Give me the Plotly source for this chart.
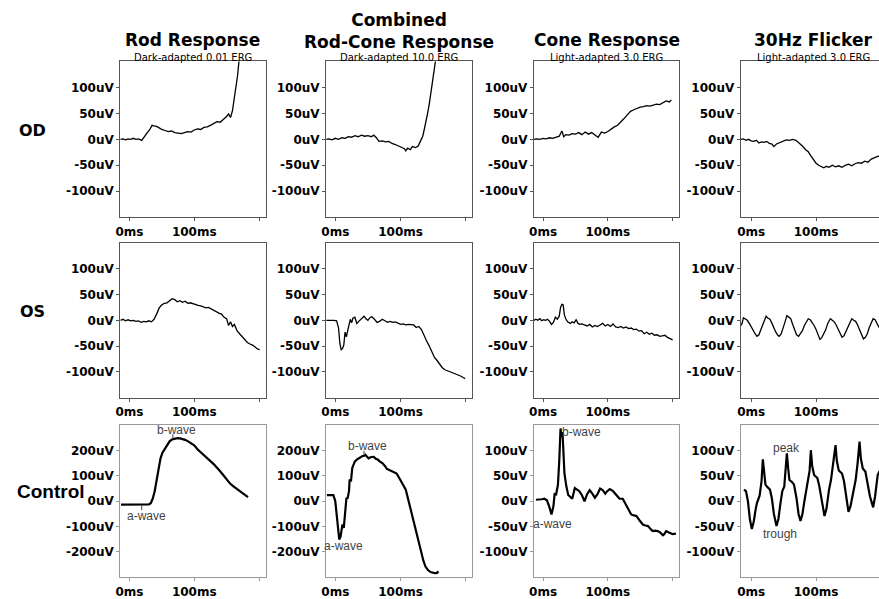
import plotly.graph_objects as go

# ---------------- data ----------------
col_titles = ["Rod Response", "Combined<br>Rod-Cone Response", "Cone Response", "30Hz Flicker"]
col_subtitles = ["Dark-adapted 0.01 ERG", "Dark-adapted 10.0 ERG", "Light-adapted 3.0 ERG", "Light-adapted 3.0 ERG"]
row_labels = ["OD", "OS", "Control"]

x_tickvals = [0, 100, 200]
x_ticktext = ["0ms", "100ms", ""]
y_tickvals_small = [-100, -50, 0, 50, 100]
y_ticktext_small = ["-100uV", "-50uV", "0uV", "50uV", "100uV"]
y_tickvals_big = [-200, -100, 0, 100, 200]
y_ticktext_big = ["-200uV", "-100uV", "0uV", "100uV", "200uV"]

# Row 1: OD
rod_od_t = [-14,-10,-6,-2,2,6,10,14,19,23,27,31,35,38,42,46,50,55,60,65,70,75,80,85,90,95,100,105,110,115,120,125,130,135,140,145,150,153,156,159,162,165,167,169,171,173]
rod_od_v = [0,1,-1,1,0,2,0,1,-2,6,12,18,27,26,25,22,19,17,15,16,13,12,11,13,15,14,18,20,19,23,24,27,30,34,33,38,44,49,42,55,78,100,124,150,180,210]

comb_od_t = [-14,-10,-5,0,5,10,15,20,25,30,35,40,45,50,55,59,63,67,72,77,82,87,92,97,102,106,108,111,115,118,123,127,131,134,136,139,141,144,146,149,151,155,158]
comb_od_v = [0,1,-1,2,0,3,2,5,4,7,5,8,6,7,5,8,3,-4,-3,-5,-4,-8,-10,-13,-15,-18,-22,-17,-20,-14,-16,-13,-2,6,17,32,47,68,85,108,124,152,190]

cone_od_t = [-14,-10,-5,0,5,10,15,20,25,29,32,35,40,45,50,55,60,65,70,75,80,85,90,95,100,105,110,115,120,125,130,135,140,145,150,155,160,165,170,175,180,185,190,195,198]
cone_od_v = [0,1,0,2,1,3,2,4,6,16,5,9,8,11,10,13,9,14,10,13,8,4,14,12,15,20,24,27,33,40,47,54,57,60,62,63,65,64,66,68,67,70,74,72,76]

flick_od_t = [-16,-12,-8,-4,0,4,8,12,16,20,24,28,32,35,39,44,49,54,59,64,69,74,79,84,88,92,96,100,104,108,112,116,120,125,130,135,140,145,150,155,160,165,170,175,180,185,190,195,200]
flick_od_v = [0,1,-2,0,-3,-4,-2,-7,-5,-6,-4,-8,-9,-14,-9,-6,-3,-1,-2,0,-2,-7,-13,-20,-24,-32,-40,-46,-50,-53,-55,-52,-54,-50,-53,-51,-54,-50,-48,-51,-47,-45,-46,-42,-44,-38,-35,-33,-32]

# Row 2: OS
rod_os_t = [-14,-10,-6,-2,2,6,10,14,18,22,26,30,34,38,42,46,50,54,58,62,66,70,74,78,82,86,90,94,98,102,106,110,114,118,122,126,130,134,138,142,146,150,153,156,159,162,166,170,174,178,182,186,190,194,198,201]
rod_os_v = [0,2,-1,1,-1,0,-2,-1,-4,-2,-3,-1,-3,2,12,24,30,33,34,38,42,40,36,38,35,37,33,34,32,31,29,28,26,24,25,22,20,17,14,12,6,3,-10,-3,-12,-8,-20,-26,-32,-36,-43,-46,-48,-52,-56,-57]

comb_os_t = [-14,-10,-6,-2,2,5,7,9,11,13,15,17,19,21,23,25,27,30,33,36,40,44,47,50,53,56,60,64,68,72,76,80,84,88,92,96,100,104,108,112,116,120,124,128,132,136,140,144,148,152,156,160,164,168,172,176,180,184,188,192,196,199]
comb_os_v = [0,0,1,0,-1,-15,-45,-57,-55,-48,-23,-32,-20,-10,2,-5,4,6,-6,-2,4,8,3,0,5,7,2,-4,-2,2,-1,-4,-2,-4,-3,-6,-8,-7,-9,-8,-8,-9,-14,-12,-18,-30,-40,-50,-60,-72,-78,-86,-92,-96,-98,-99,-101,-103,-106,-108,-111,-113]

cone_os_t = [-14,-11,-8,-5,-2,1,4,7,10,13,16,19,22,25,27,29,31,33,35,38,42,45,48,51,54,57,60,64,68,72,76,80,84,88,92,96,100,104,108,112,116,120,124,128,132,136,140,144,148,152,156,160,164,168,172,176,180,184,188,192,196,200]
cone_os_v = [0,2,0,3,-1,1,0,2,-2,-8,-4,6,2,8,25,31,30,10,3,-3,-6,-3,-5,1,-6,-8,-7,-9,-11,-8,-13,-10,-12,-9,-6,-11,-8,-12,-7,-13,-14,-12,-15,-13,-16,-15,-18,-17,-21,-20,-26,-23,-27,-25,-29,-28,-31,-30,-29,-33,-35,-38]

flick_os_t = [-16,-14,-12,-9,-6,-2,2,6,9,12,15,18,21,23,26,29,32,35,38,41,43,46,49,52,55,58,61,64,67,70,73,76,79,82,85,88,91,94,97,100,103,106,109,112,115,118,122,125,128,131,134,137,140,143,146,149,152,155,158,161,164,167,170,173,176,179,182,185,188,191,194,197]
flick_os_v = [-10,-6,5,2,0,-8,-18,-26,-31,-28,-18,-8,2,8,4,2,-6,-15,-23,-29,-31,-27,-17,-4,9,5,3,-8,-20,-28,-31,-26,-20,-10,-2,3,1,-4,-10,-18,-28,-37,-33,-26,-18,-6,3,0,-3,-9,-17,-26,-33,-30,-22,-14,-6,3,0,-2,-9,-18,-28,-36,-33,-26,-14,-4,3,1,-8,-14]

# Row 3: Control
rod_ct_t = [-13,-5,0,5,10,15,20,25,30,33,36,39,42,45,48,51,54,58,62,66,70,74,78,82,86,90,95,100,105,110,115,120,125,130,135,140,145,150,155,160,165,170,175,180,183]
rod_ct_v = [-13,-13,-13,-13,-12,-13,-13,-12,-12,-8,10,40,80,130,170,192,205,225,237,245,249,250,249,247,243,238,230,221,206,195,184,172,159,147,134,119,103,87,71,60,50,40,30,21,16]

comb_ct_t = [-13,-8,-3,0,3,5,6,8,10,11,13,15,17,19,21,22,24,26,28,30,33,37,41,44,46,48,51,55,59,62,65,68,72,76,79,82,86,90,94,98,101,104,108,111,115,119,123,127,131,135,138,142,146,149,152,156,158]
comb_ct_v = [24,24,24,0,-79,-130,-151,-140,-112,-92,-105,-33,11,13,40,86,79,132,145,158,165,172,178,180,184,178,170,175,176,168,165,158,151,140,128,125,120,118,110,92,78,62,46,15,-26,-65,-105,-150,-198,-235,-257,-272,-280,-283,-284,-283,-277]

cone_ct_t = [-11,-6,-2,2,6,10,13,16,18,20,23,25,27,28,29,30,31,33,36,39,41,45,49,53,56,60,64,68,72,76,80,84,88,92,96,99,103,108,113,118,123,127,131,136,140,144,149,154,158,162,166,169,173,177,181,185,187,190,195,200,205]
cone_ct_v = [3,3,4,5,2,-12,-26,-10,16,12,33,80,144,130,128,137,100,55,29,12,10,5,26,22,20,12,0,14,22,15,7,14,25,22,15,20,24,20,12,5,5,-5,-15,-26,-28,-29,-38,-46,-48,-49,-55,-59,-58,-59,-62,-67,-65,-59,-62,-65,-64]

flick_ct_t = [-11,-8,-5,-2,1,4,7,9,13,16,18,20,22,25,29,32,35,39,42,45,48,51,53,55,57,59,63,66,70,73,76,79,82,84,87,90,92,94,97,102,105,109,113,116,118,120,123,126,130,132,135,140,143,147,150,153,156,158,161,164,167,169,172,176,179,183,188,191,195,198]
flick_ct_v = [23,20,0,-35,-55,-40,-15,-3,11,40,83,55,33,28,23,5,-25,-49,-35,-5,20,29,60,95,65,42,38,33,5,-25,-39,-25,0,16,31,60,101,70,52,46,30,0,-29,-15,5,23,42,70,111,80,61,55,40,5,-21,-10,10,23,42,75,118,85,65,59,40,10,-12,10,52,60]

series_t = [[rod_od_t, comb_od_t, cone_od_t, flick_od_t],
            [rod_os_t, comb_os_t, cone_os_t, flick_os_t],
            [rod_ct_t, comb_ct_t, cone_ct_t, flick_ct_t]]
series_v = [[rod_od_v, comb_od_v, cone_od_v, flick_od_v],
            [rod_os_v, comb_os_v, cone_os_v, flick_os_v],
            [rod_ct_v, comb_ct_v, cone_ct_v, flick_ct_v]]

# control-row labels: (column, text, t, v, anchor)
ann_col = [0, 0, 1, 1, 2, 2, 3, 3]
ann_text = ["b-wave", "a-wave", "b-wave", "a-wave", "b-wave", "a-wave", "peak", "trough"]
ann_t = [72, 26, 49, 13, 60, 15, 55, 44]
ann_v = [282, -57, 220, -178, 137, -44, 106, -64]
# small pointer ticks: (column, t, v_start, v_end)
tick_col = [0, 0, 1]
tick_t = [67, 19, 44]
tick_v0 = [266, -15, 200]
tick_v1 = [247, -35, 184]

# ---------------- layout ----------------
W, H = 879, 599
col_px = [(116, 262), (323, 470), (532, 678), (740, 879)]
row_px = [(62, 219), (245, 401), (429, 582)]
x_ranges = [[-14, 210], [-14, 210], [-14, 210], [-16, 197]]
big_y = {(2, 0), (2, 1)}

def px2x(p):
    return p / W

def px2y(p):
    return 1 - p / H

fig = go.Figure()
layout = dict(width=W, height=H, margin=dict(l=0, r=0, t=0, b=0),
              paper_bgcolor="white", plot_bgcolor="white", showlegend=False)
tickfont = dict(family="DejaVu Sans", size=12, color="black", weight="bold")

for r in range(3):
    for c in range(4):
        i = r * 4 + c + 1
        sfx = "" if i == 1 else str(i)
        lc = "#9a9a9a" if r == 2 else "#555555"
        lw = 2.2 if r == 2 else 1.3
        fig.add_trace(go.Scatter(x=series_t[r][c], y=series_v[r][c], mode="lines",
                                 line=dict(color="black", width=lw),
                                 xaxis="x" + sfx, yaxis="y" + sfx, hoverinfo="skip"))
        layout["xaxis" + sfx] = dict(
            domain=[px2x(col_px[c][0]), px2x(col_px[c][1])], anchor="y" + sfx,
            range=x_ranges[c], tickvals=x_tickvals, ticktext=x_ticktext,
            ticks="outside", ticklen=3, tickcolor=lc, tickwidth=1,
            showline=True, linecolor=lc, linewidth=1.3, mirror=True,
            showgrid=False, zeroline=False, tickfont=tickfont, fixedrange=True)
        if (r, c) in big_y:
            yr, tv, tt = [-300, 300], y_tickvals_big, y_ticktext_big
        else:
            yr, tv, tt = [-150, 150], y_tickvals_small, y_ticktext_small
        layout["yaxis" + sfx] = dict(
            domain=[px2y(row_px[r][1]), px2y(row_px[r][0])], anchor="x" + sfx,
            range=yr, tickvals=tv, ticktext=tt,
            ticks="outside", ticklen=3, tickcolor=lc, tickwidth=1,
            showline=True, linecolor=lc, linewidth=1.3, mirror=(c != 3),
            showgrid=False, zeroline=False, tickfont=tickfont, fixedrange=True)

annotations = []
title_y_px = [40, 40, 40, 40]
col_centers = [189, 396, 605, 813]
for c in range(4):
    annotations.append(dict(text=col_titles[c], x=px2x(col_centers[c]), y=px2y(31 if c == 1 else 40),
                            xref="paper", yref="paper", showarrow=False, xanchor="center",
                            yanchor="middle",
                            font=dict(family="DejaVu Sans", size=17, color="black", weight="bold")))
    annotations.append(dict(text=col_subtitles[c], x=px2x(col_centers[c]), y=px2y(57.5),
                            xref="paper", yref="paper", showarrow=False, xanchor="center",
                            yanchor="middle",
                            font=dict(family="DejaVu Sans", size=10, color="black")))

row_lab_pos = [(28, 132), (28, 314), (46, 496)]
for r in range(3):
    fam = "Liberation Sans" if r == 2 else "DejaVu Sans"
    sz = 19 if r == 2 else 16
    annotations.append(dict(text=row_labels[r], x=px2x(row_lab_pos[r][0]), y=px2y(row_lab_pos[r][1]),
                            xref="paper", yref="paper", showarrow=False, xanchor="center",
                            yanchor="middle",
                            font=dict(family=fam, size=sz, color="black", weight="bold")))

for k in range(len(ann_text)):
    i = 8 + ann_col[k] + 1
    annotations.append(dict(text=ann_text[k], x=ann_t[k], y=ann_v[k],
                            xref="x" + str(i), yref="y" + str(i), showarrow=False,
                            xanchor="center", yanchor="middle",
                            font=dict(family="Liberation Sans", size=12, color="#444444")))

shapes = []
for k in range(len(tick_t)):
    i = 8 + tick_col[k] + 1
    shapes.append(dict(type="line", xref="x" + str(i), yref="y" + str(i),
                       x0=tick_t[k], x1=tick_t[k], y0=tick_v0[k], y1=tick_v1[k],
                       line=dict(color="#444444", width=1)))

layout["annotations"] = annotations
layout["shapes"] = shapes
fig.update_layout(**layout)
fig.write_html("out.html")
